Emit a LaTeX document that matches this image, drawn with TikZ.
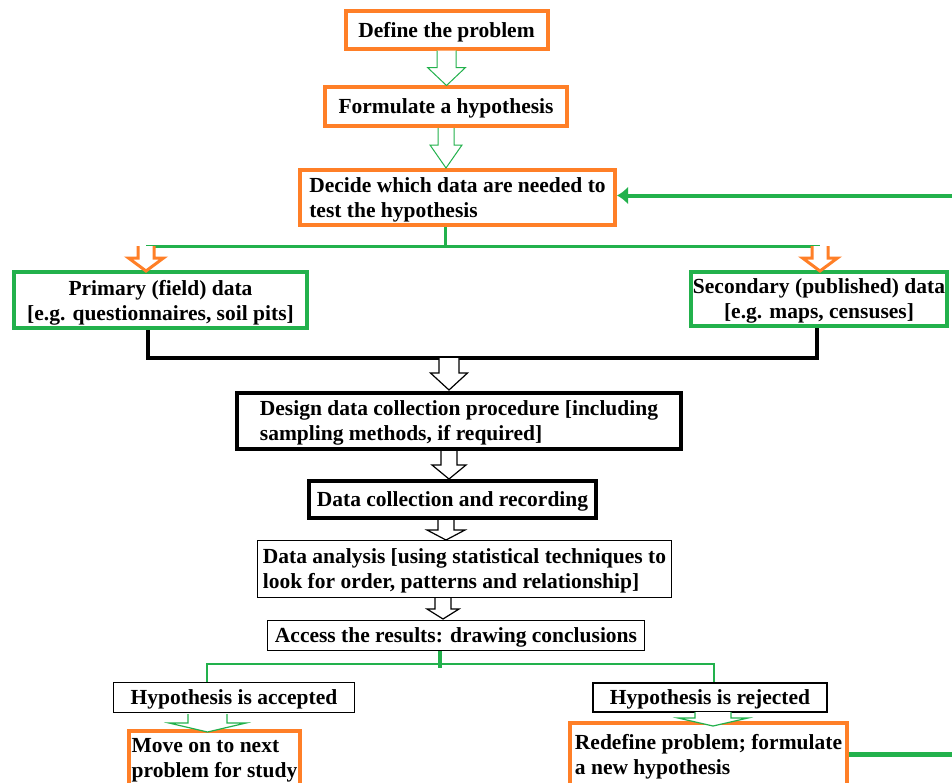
\documentclass[tikz,border=0pt]{standalone}
\usepackage{fontspec}
\setmainfont{Liberation Serif}
\usetikzlibrary{calc,arrows.meta}
\definecolor{og}{RGB}{255,127,39}
\definecolor{gn}{RGB}{34,177,76}
% #1 style, #2 start (middle of the open end), #3 length, #4 shaft half width, #5 head half width, #6 head length
\newcommand{\hollowarrow}[6]{%
  \draw[fill=white,#1] ($(#2)+(-#4,0)$) -- ($(#2)+(-#4,#3-#6)$) -- ($(#2)+(-#5,#3-#6)$) -- ($(#2)+(0,#3)$)
     -- ($(#2)+(#5,#3-#6)$) -- ($(#2)+(#4,#3-#6)$) -- ($(#2)+(#4,0)$);}
\begin{document}
\begin{tikzpicture}[x=1pt,y=-1pt,
  base/.style={font=\bfseries\fontsize{21.5}{25}\selectfont, inner sep=0pt, fill=white, text=black, text depth=0pt},
  obox/.style={base, draw=og, line width=4pt},
  gbox/.style={base, draw=gn, line width=4pt},
  kbox/.style={base, draw=black, line width=4pt},
  tbox/.style={base, draw=black, line width=1.5pt},
  gline/.style={draw=gn, line width=3pt},
  kline/.style={draw=black, line width=3.5pt},
]
\fill[white] (0,0) rectangle (952,782);
\useasboundingbox (0,0) rectangle (952,782);
\clip (0,0) rectangle (952,782);

% helper coordinates
\coordinate (dtr) at (445,246);
\coordinate (gl) at (146,246);
\coordinate (gr) at (820,246);
\coordinate (pb) at (148,358);
\coordinate (sb) at (817,358);
\coordinate (ka) at (449,358);
\coordinate (a3) at (449,451);
\coordinate (a4) at (446,520);
\coordinate (a5) at (443,598);
\coordinate (gj) at (440,664);
\coordinate (ga) at (207,664);
\coordinate (gb) at (714,664);
\coordinate (aa) at (207.5,714);
\coordinate (rr) at (713,712);
\coordinate (re) at (952,0);

% nodes
\node[obox, minimum width=202pt, minimum height=38pt] (define) at (446.5,29.5) {Define the problem};
\node[obox, minimum width=242pt, minimum height=39pt] (formulate) at (446,106.5) {Formulate a hypothesis};
\node[obox, minimum width=315pt, minimum height=55pt, align=left] (decide) at (457.5,197.5)
  {Decide which data are needed to\\test the hypothesis};
\node[gbox, minimum width=293pt, minimum height=56pt, align=center] (primary) at (160.5,300)
  {Primary (field) data\\{[}e.g. questionnaires, soil pits{]}};
\node[gbox, minimum width=256pt, minimum height=54pt, align=center] (secondary) at (819,299)
  {Secondary (published) data\\{[}e.g. maps, censuses{]}};
\node[kbox, minimum width=444pt, minimum height=56pt, align=left] (design) at (459,421)
  {Design data collection procedure {[}including\\sampling methods, if required{]}};
\node[kbox, minimum width=287pt, minimum height=37pt] (collection) at (452.5,499.5) {Data collection and recording};
\node[tbox, minimum width=414pt, minimum height=57pt, align=left] (analysis) at (464.5,569)
  {Data analysis {[}using statistical techniques to\\look for order, patterns and relationship{]}};
\node[tbox, minimum width=377pt, minimum height=30pt] (access) at (456,635.5) {Access the results: drawing conclusions};
\node[tbox, minimum width=241pt, minimum height=30pt] (accepted) at (234,697.5) {Hypothesis is accepted};
\node[tbox, minimum width=234pt, minimum height=29pt] (rejected) at (710,697.5) {Hypothesis is rejected};
\node[obox, minimum width=171pt, minimum height=54pt, align=left] (moveon) at (214.5,758)
  {Move on to next\\problem for study};
\node[obox, minimum width=277pt, minimum height=62pt, align=left] (redefine) at (708.5,754)
  {Redefine problem; formulate\\a new hypothesis};

% connectors
\draw[gline] (dtr |- decide.south) -- (dtr);
\draw[gline] (gl) -- (gr);
\draw[kline] (pb |- primary.south) -- (pb) -- (sb) -- (sb |- secondary.south);
\draw[draw=gn, line width=4pt] (gj |- access.south) -- ($(gj)+(0,4)$);
\draw[draw=gn, line width=1.5pt] (ga |- accepted.north) -- (ga) -- (gb) -- (gb |- rejected.north);
\draw[draw=gn, line width=5pt] (redefine.east) -- (redefine.east -| re);
\draw[draw=gn, line width=4pt, -{Latex[length=11pt,width=18pt]}] ($(decide.east -| re)+(0,-2)$) -- ($(decide.east)+(0,-2)$);

% hollow block arrows
\hollowarrow{draw=gn, line width=1pt}{define.south}{35}{9.5}{19}{18}
\hollowarrow{draw=gn, line width=1pt}{formulate.south}{40}{8}{16}{23}
\hollowarrow{draw=og, line width=3pt}{gl}{25}{8}{17.5}{13}
\hollowarrow{draw=og, line width=3pt}{gr}{25}{8}{17.5}{13}
\hollowarrow{draw=black, line width=1.2pt}{ka}{32}{10}{18.5}{17}
\hollowarrow{draw=black, line width=1.2pt}{a3}{28}{8}{17}{14}
\hollowarrow{draw=black, line width=1.2pt}{a4}{20}{8}{19}{10}
\hollowarrow{draw=black, line width=1.2pt}{a5}{21}{8}{16}{10}
\hollowarrow{draw=gn, line width=1.2pt}{aa}{18}{19.5}{38.5}{9}
\hollowarrow{draw=gn, line width=1.2pt}{rr}{14}{18}{35}{8}
\end{tikzpicture}
\end{document}
